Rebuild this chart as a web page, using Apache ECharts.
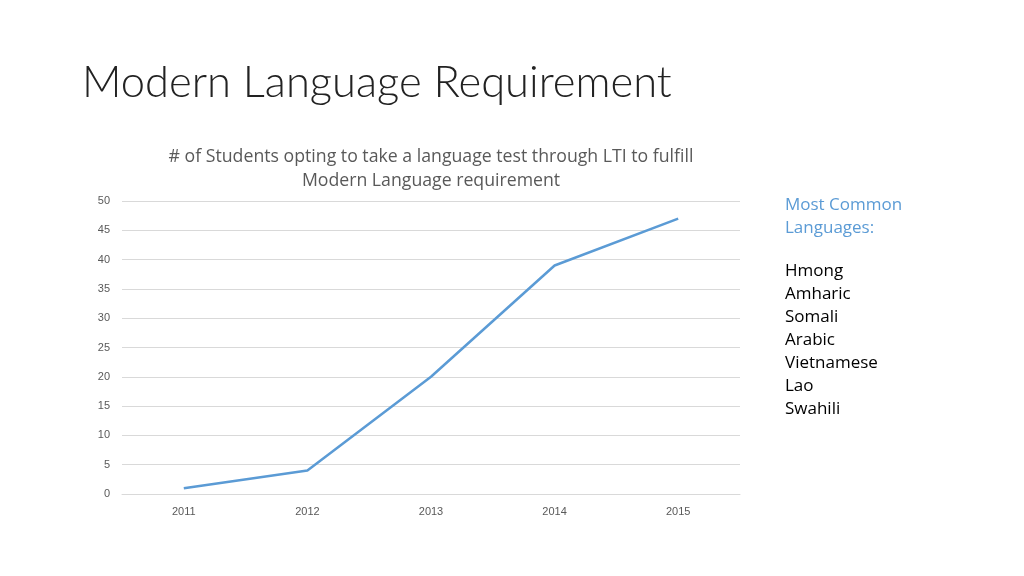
<!DOCTYPE html>
<html>
<head>
<meta charset="utf-8">
<script src="https://cdn.jsdelivr.net/npm/echarts@6/dist/echarts.min.js"></script>
<style>html,body{margin:0;padding:0;background:#fff}#main{width:1024px;height:576px}</style>
</head>
<body>
<div id="main"></div>
<script>
var years = ['2011', '2012', '2013', '2014', '2015'];
var students = [1, 4, 20, 39, 47];
var languages = ['Hmong', 'Amharic', 'Somali', 'Arabic', 'Vietnamese', 'Lao', 'Swahili'];

var chart = echarts.init(document.getElementById('main'));
var langText = [];
languages.forEach(function (name, i) {
  langText.push({
    type: 'text', left: 785, top: 263 + i * 23,
    style: { text: name, font: '17px "Open Sans", sans-serif', fill: '#000' }
  });
});

chart.setOption({
  animation: false,
  title: [{
    text: 'Modern Language Requirement',
    left: 77, top: 56,
    textStyle: { fontSize: 43.5, fontWeight: 300, fontFamily: 'Lato, sans-serif', color: '#222' }
  }, {
    text: '# of Students opting to take a language test through LTI to fulfill\nModern Language requirement',
    left: 426, top: 140, textAlign: 'center',
    textStyle: { fontSize: 17.7, fontWeight: 'normal', fontFamily: '"Open Sans", sans-serif', color: '#595959', lineHeight: 24, align: 'center' }
  }],
  grid: { left: 122, right: 284, top: 201, bottom: 82 },
  xAxis: {
    type: 'category',
    data: years,
    axisLine: { lineStyle: { color: '#d9d9d9' } },
    axisTick: { show: false },
    axisLabel: { color: '#595959', fontSize: 11, margin: 12 }
  },
  yAxis: {
    type: 'value', min: 0, max: 50, interval: 5,
    axisLabel: { color: '#595959', fontSize: 11, margin: 12 },
    splitLine: { lineStyle: { color: '#d9d9d9' } }
  },
  series: [{
    type: 'line',
    data: students,
    symbol: 'none',
    lineStyle: { color: '#5B9BD5', width: 2.5 }
  }],
  graphic: [{
    type: 'text', left: 785, top: 194,
    style: { text: 'Most Common\nLanguages:', font: '17px "Open Sans", sans-serif', fill: '#5B9BD5', lineHeight: 23 }
  }].concat(langText)
});
</script>
</body>
</html>
